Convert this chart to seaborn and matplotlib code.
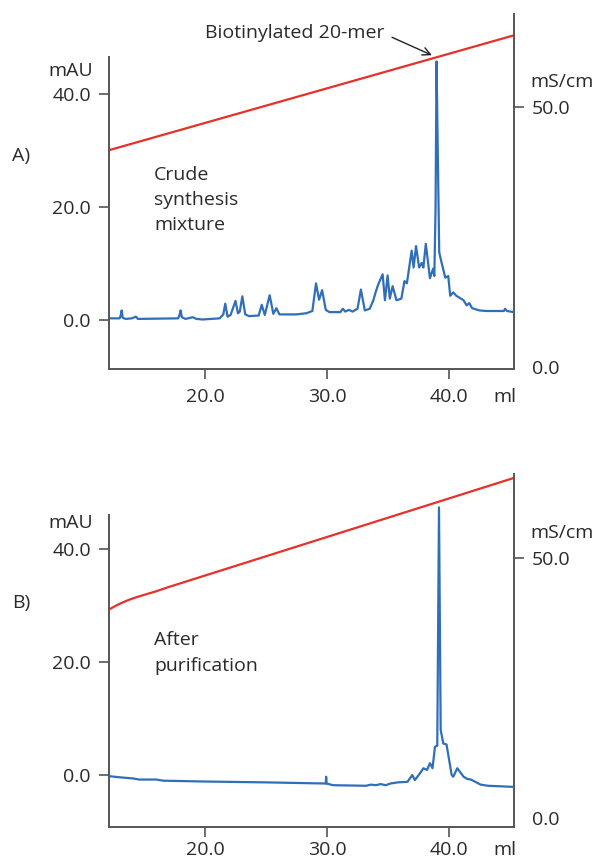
import matplotlib
matplotlib.use("Agg")
import matplotlib.pyplot as plt
import seaborn as sns
import pandas as pd

# ---------------- data ----------------
# Panel A: crude synthesis mixture (UV trace, mAU vs ml)
a_ml = [12.13, 13.0, 13.1, 13.17, 13.25, 13.5, 14.0, 14.34, 14.5, 17.8, 17.9, 18.0, 18.1, 18.4,
        19.0, 19.3, 19.8, 21.2, 21.5, 21.66, 21.85, 22.1, 22.5, 22.7, 22.85, 23.06, 23.3, 23.6,
        24.4, 24.65, 24.9, 25.3, 25.6, 25.85, 26.1, 27.5, 28.3, 28.8, 29.1, 29.35, 29.6, 29.9,
        30.2, 31.1, 31.3, 31.5, 31.8, 32.1, 32.5, 32.78, 33.1, 33.5, 33.8, 34.0, 34.2, 34.56,
        34.75, 34.97, 35.15, 35.38, 35.7, 36.1, 36.35, 36.55, 36.94, 37.1, 37.3, 37.55, 37.76,
        37.9, 38.1, 38.44, 38.7, 38.8, 38.9, 38.98, 39.08, 39.2, 39.4, 39.7, 39.94, 40.1, 40.35,
        40.6, 41.2, 41.45, 41.66, 41.9, 42.5, 43.1, 44.5, 44.6, 44.75, 45.33]
a_mau = [0.3, 0.3, 0.9, 1.7, 0.4, 0.2, 0.3, 0.6, 0.2, 0.3, 0.8, 1.7, 0.5, 0.2,
         0.5, 0.2, 0.1, 0.3, 1.0, 2.9, 0.6, 0.9, 3.4, 1.2, 1.5, 4.2, 1.0, 0.7,
         0.8, 2.7, 0.9, 4.4, 1.1, 2.1, 1.0, 1.0, 1.2, 1.6, 6.5, 3.6, 5.3, 1.8,
         1.4, 1.4, 2.0, 1.5, 1.8, 1.5, 2.0, 5.4, 1.7, 2.0, 3.5, 5.0, 6.3, 8.1,
         3.5, 7.9, 3.8, 6.0, 3.5, 3.8, 6.9, 6.5, 12.3, 9.3, 13.1, 9.3, 10.1,
         9.3, 13.5, 7.4, 9.1, 7.8, 20.0, 45.8, 30.0, 12.0, 10.1, 7.5, 7.8, 4.3, 4.9,
         4.3, 3.5, 2.6, 3.0, 2.1, 1.7, 1.6, 1.6, 2.0, 1.6, 1.4]
# Panel A conductivity (mS/cm)
a_cond_ml = [12.13, 45.33]
a_cond = [41.7, 63.8]

# Panel B: after purification
b_ml = [12.13, 13.0, 14.1, 14.6, 16.0, 16.6, 20.0, 25.0, 29.9, 29.93, 29.97, 30.5, 33.2, 33.6,
        34.0, 34.4, 34.8, 35.2, 35.8, 36.6, 36.99, 37.2, 37.62, 37.9, 38.2, 38.44, 38.65, 38.85,
        39.04, 39.18, 39.32, 39.53, 39.8, 40.22, 40.35, 40.68, 41.2, 41.5, 41.8, 42.6, 43.2, 45.33]
b_mau = [-0.2, -0.4, -0.6, -0.8, -0.8, -1.0, -1.15, -1.3, -1.5, -0.3, -1.5, -1.8, -1.9, -1.7,
         -1.8, -1.6, -1.8, -1.5, -1.3, -1.2, 0.0, -0.9, 0.3, 1.2, 0.9, 2.1, 1.2, 5.0,
         5.2, 47.4, 8.0, 5.6, 5.4, 0.0, -0.3, 1.2, -0.3, -0.7, -0.8, -1.7, -1.9, -2.1]
b_cond_ml = [12.13, 12.6, 13.1, 13.7, 14.3, 15.0, 16.0, 17.0, 45.33]
b_cond = [40.1, 40.7, 41.3, 41.9, 42.4, 42.9, 43.6, 44.4, 65.4]

x_ticks = [20.0, 30.0, 40.0]
left_ticks = [0.0, 20.0, 40.0]
right_ticks = [0.0, 50.0]

panels = [
    dict(ml=a_ml, mau=a_mau, cml=a_cond_ml, cond=a_cond, label="A)",
         note="Crude\nsynthesis\nmixture", rect=[109, 14, 514, 369],
         ylim=(-8.67, 54.2), spine_top=46.5, rlim=(-0.4, 67.9),
         label_y=156, note_y=200, mau_y=71, ms_y=82, xlab_pad=7),
    dict(ml=b_ml, mau=b_mau, cml=b_cond_ml, cond=b_cond, label="B)",
         note="After\npurification", rect=[109, 474, 514, 827],
         ylim=(-9.2, 53.3), spine_top=46.0, rlim=(-1.73, 66.15),
         label_y=603, note_y=653, mau_y=523, ms_y=533, xlab_pad=3),
]

W, H = 598, 858
sns.set_theme(style="white")
plt.rcParams["font.family"] = ["Open Sans", "DejaVu Sans"]
FS = 14

fig = plt.figure(figsize=(W / 100, H / 100), dpi=100)

spine_c = "#555555"
blue = "#2f6fba"
red = "#e8302a"
txt_c = "#2a2a2a"

for p in panels:
    x0, y0, x1, y1 = p["rect"]
    ax = fig.add_axes([x0 / W, 1 - y1 / H, (x1 - x0) / W, (y1 - y0) / H])
    ax2 = ax.twinx()

    df = pd.DataFrame({"ml": p["ml"], "mAU": p["mau"]})
    dc = pd.DataFrame({"ml": p["cml"], "cond": p["cond"]})
    sns.lineplot(data=dc, x="ml", y="cond", ax=ax2, color=red, lw=1.6,
                 sort=False, estimator=None)
    sns.lineplot(data=df, x="ml", y="mAU", ax=ax, color=blue, lw=1.6,
                 sort=False, estimator=None)
    ax.set_zorder(ax2.get_zorder() + 1)
    ax.patch.set_visible(False)

    ax.set_xlim(12.13, 45.33)
    ax.set_ylim(*p["ylim"])
    ax2.set_ylim(*p["rlim"])
    ax.set_xticks(x_ticks)
    ax.set_xticklabels([f"{v:.1f}" for v in x_ticks])
    ax.set_yticks(left_ticks)
    ax.set_yticklabels([f"{v:.1f}" for v in left_ticks])
    ax2.set_yticks(right_ticks)
    ax2.set_yticklabels([f"{v:.1f}" for v in right_ticks])
    ax.set_xlabel("")
    ax.set_ylabel("")
    ax2.set_ylabel("")

    for a in (ax, ax2):
        for s in a.spines.values():
            s.set_color(spine_c)
            s.set_linewidth(1.4)
        a.spines["top"].set_visible(False)
    ax.spines["right"].set_visible(False)
    ax2.spines["left"].set_visible(False)
    ax2.spines["bottom"].set_visible(False)
    ax.spines["left"].set_bounds(p["ylim"][0], p["spine_top"])

    ax.tick_params(axis="both", which="both", direction="out", length=7, width=1.2,
                   color=spine_c, labelcolor=txt_c, labelsize=FS)
    ax.tick_params(axis="x", pad=p["xlab_pad"], bottom=True)
    ax.tick_params(axis="y", pad=6, left=True)
    ax2.tick_params(axis="y", direction="out", length=7, width=1.2, color=spine_c,
                    labelcolor=txt_c, labelsize=FS, pad=6, right=True)
    ax2.yaxis.get_major_ticks()[0].tick2line.set_visible(False)
    ax.grid(False)
    ax2.grid(False)

    # texts
    fig.text(12 / W, 1 - p["label_y"] / H, p["label"], fontsize=FS, color=txt_c,
             ha="left", va="center")
    fig.text(154 / W, 1 - p["note_y"] / H, p["note"], fontsize=FS, color=txt_c,
             ha="left", va="center", linespacing=1.52, multialignment="left")
    fig.text(93 / W, 1 - p["mau_y"] / H, "mAU", fontsize=FS, color=txt_c,
             ha="right", va="center")
    fig.text(530 / W, 1 - p["ms_y"] / H, "mS/cm", fontsize=FS, color=txt_c,
             ha="left", va="center")
    ax.annotate("ml", xy=(505, 0), xycoords=("figure pixels", "axes fraction"),
                xytext=(0, -(7 + p["xlab_pad"])), textcoords="offset points",
                ha="center", va="top", fontsize=FS, color=txt_c, annotation_clip=False)

    if p["label"] == "A)":
        ax.annotate("Biotinylated 20-mer", xy=(38.6, 46.9), xytext=(34.75, 50.8),
                    textcoords="data", ha="right", va="center", fontsize=FS,
                    color=txt_c, annotation_clip=False,
                    arrowprops=dict(arrowstyle="->", color="#222222", lw=1.0,
                                    relpos=(1.0, 0.45), shrinkA=3, shrinkB=0))

fig.savefig("out.png", dpi=100)
